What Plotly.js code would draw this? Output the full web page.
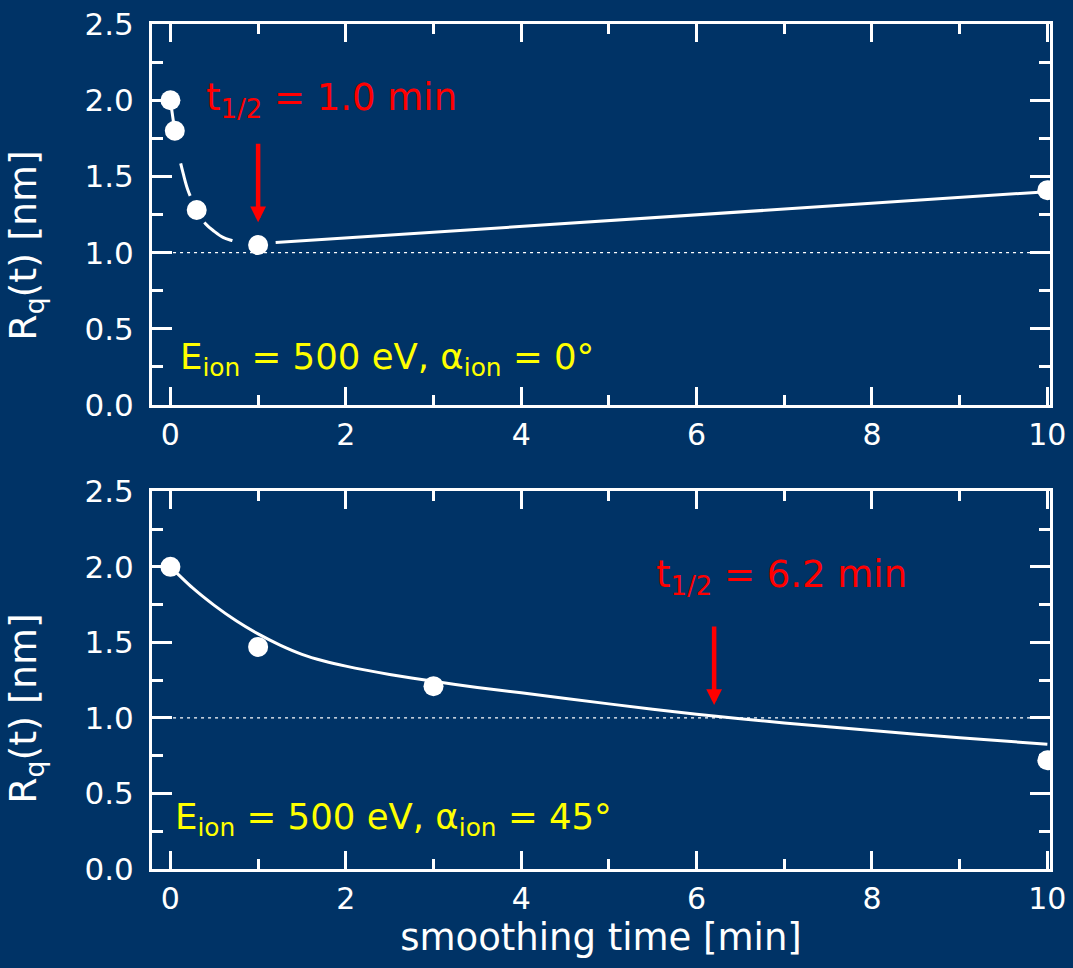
<!DOCTYPE html>
<html><head><meta charset="utf-8">
<script src="https://cdn.plot.ly/plotly-3.0.1.min.js"></script>
<style>html,body{margin:0;padding:0;background:#003366}</style>
</head><body><div id="chart" style="width:1073px;height:968px"></div>
<script>
// ---- data ----
// top panel (alpha = 0 deg)
const topPointsT = [0, 0.05, 0.3, 1.0, 10];
const topPointsR = [2.0, 1.80, 1.28, 1.05, 1.41];
const topFastT = [0, 0.05, 0.1, 0.15, 0.2, 0.3, 0.4, 0.5, 0.6, 0.7, 0.8, 0.9, 1.0];
const topFastR = [2.0, 1.80, 1.63, 1.51, 1.41, 1.28, 1.19, 1.14, 1.10, 1.08, 1.065, 1.055, 1.05];
const topSlowT = [1.2, 2, 3, 4, 5, 6, 7, 8, 9, 10];
const topSlowR = [1.066, 1.096, 1.134, 1.172, 1.21, 1.248, 1.286, 1.324, 1.362, 1.40];
// bottom panel (alpha = 45 deg)
const botPointsT = [0, 1, 3, 10];
const botPointsR = [2.0, 1.47, 1.21, 0.72];
const botFitT = [0, 0.25, 0.5, 0.75, 1.0, 1.25, 1.5, 1.75, 2.0, 2.5, 3.0, 3.5, 4, 5, 6, 7, 8, 9, 10];
const botFitR = [2.0, 1.862, 1.745, 1.643, 1.556, 1.482, 1.421, 1.377, 1.343, 1.288, 1.242, 1.202, 1.166, 1.093, 1.024, 0.967, 0.916, 0.869, 0.826];
// reference level and half-times
const refT = [0.03, 10];
const refR = [1.0, 1.0];
const tHalf = [1.0, 6.2];
const halfLabels = ['t<sub>1/2</sub> = 1.0 min', 't<sub>1/2</sub> = 6.2 min'];
const condLabels = ['E<sub>ion</sub> = 500 eV, α<sub>ion</sub> = 0°', 'E<sub>ion</sub> = 500 eV, α<sub>ion</sub> = 45°'];
const yTitle = 'R<sub>q</sub>(t) [nm]';
const xTitle = 'smoothing time [min]';
const yTickVals = [0, 0.5, 1.0, 1.5, 2.0, 2.5];
const xTickVals = [0, 2, 4, 6, 8, 10];

const W = 'white';
const FONT = 'DejaVu Sans, Verdana, sans-serif';

const traces = [
  {x: refT, y: refR, xaxis: 'x', yaxis: 'y', mode: 'lines', line: {color: W, width: 1.3, dash: '3px,4px'}, hoverinfo: 'skip'},
  {x: topFastT, y: topFastR, xaxis: 'x', yaxis: 'y', mode: 'lines', line: {color: W, width: 3, dash: '34px,30px', shape: 'spline'}},
  {x: topSlowT, y: topSlowR, xaxis: 'x', yaxis: 'y', mode: 'lines', line: {color: W, width: 3}},
  {x: topPointsT, y: topPointsR, xaxis: 'x', yaxis: 'y', mode: 'markers', marker: {color: W, size: 20}},
  {x: refT, y: refR, xaxis: 'x2', yaxis: 'y2', mode: 'lines', line: {color: W, width: 1.3, dash: '3px,4px'}, hoverinfo: 'skip'},
  {x: botFitT, y: botFitR, xaxis: 'x2', yaxis: 'y2', mode: 'lines', line: {color: W, width: 3, shape: 'spline', smoothing: 0.6}},
  {x: botPointsT, y: botPointsR, xaxis: 'x2', yaxis: 'y2', mode: 'markers', marker: {color: W, size: 20}}
];

function xax(anchor, showTitle) {
  const a = {
    anchor: anchor, range: [-0.21, 10.03], tickvals: xTickVals,
    ticks: 'inside', ticklen: 18, tickwidth: 3, tickcolor: W,
    minor: {dtick: 1, ticks: 'inside', ticklen: 10, tickwidth: 3, tickcolor: W},
    showline: true, linecolor: W, linewidth: 3, mirror: 'allticks',
    showgrid: false, zeroline: false,
    tickfont: {family: FONT, size: 30, color: W}, ticklabelstandoff: 1
  };
  if (showTitle) a.title = {text: xTitle, font: {family: FONT, size: 37, color: W}, standoff: 6};
  return a;
}
function yax(anchor, domain) {
  return {
    anchor: anchor, domain: domain, range: [0, 2.5], tickvals: yTickVals, tickformat: '.1f',
    ticks: 'inside', ticklen: 20, tickwidth: 3, tickcolor: W,
    minor: {dtick: 0.25, ticks: 'inside', ticklen: 11, tickwidth: 3, tickcolor: W},
    showline: true, linecolor: W, linewidth: 3, mirror: 'allticks',
    showgrid: false, zeroline: false,
    tickfont: {family: FONT, size: 31, color: W}, ticklabelstandoff: 9
  };
}

const ann = [];
// half-time arrows
const arrowTip = [1.20, 1.086];
const arrowTail = [1.724, 1.615];
['', '2'].forEach((s, i) => {
  ann.push({xref: 'x' + s, yref: 'y' + s, axref: 'x' + s, ayref: 'y' + s,
    x: tHalf[i], y: arrowTip[i], ax: tHalf[i], ay: arrowTail[i], text: '',
    showarrow: true, arrowhead: 2, arrowsize: 0.7, arrowwidth: 4.5, arrowcolor: '#ff0000'});
});
ann.push({xref: 'x', yref: 'y', x: 0.38, y: 2.0, xanchor: 'left', yanchor: 'middle', text: halfLabels[0],
  showarrow: false, font: {family: FONT, size: 37, color: '#ff0000'}});
ann.push({xref: 'x2', yref: 'y2', x: 5.51, y: 1.93, xanchor: 'left', yanchor: 'middle', text: halfLabels[1],
  showarrow: false, font: {family: FONT, size: 37, color: '#ff0000'}});
ann.push({xref: 'x', yref: 'y', x: 0.09, y: 0.30, xanchor: 'left', yanchor: 'middle', text: condLabels[0],
  showarrow: false, font: {family: FONT, size: 35.5, color: '#ffff00'}});
ann.push({xref: 'x2', yref: 'y2', x: 0.035, y: 0.33, xanchor: 'left', yanchor: 'middle', text: condLabels[1],
  showarrow: false, font: {family: FONT, size: 35.5, color: '#ffff00'}});
// y-axis titles (placed as rotated text like the reference)
ann.push({xref: 'paper', yref: 'paper', x: -0.141, y: 0.738, xanchor: 'center', yanchor: 'middle', textangle: -90,
  text: yTitle, showarrow: false, font: {family: FONT, size: 38, color: W}});
ann.push({xref: 'paper', yref: 'paper', x: -0.141, y: 0.19, xanchor: 'center', yanchor: 'middle', textangle: -90,
  text: yTitle, showarrow: false, font: {family: FONT, size: 38, color: W}});

const layout = {
  width: 1073, height: 968,
  paper_bgcolor: '#003366', plot_bgcolor: '#003366',
  margin: {l: 152, r: 23, t: 24, b: 99},
  showlegend: false,
  xaxis: xax('y', false),
  yaxis: yax('x', [0.549, 1]),
  xaxis2: xax('y2', true),
  yaxis2: yax('x2', [0, 0.447]),
  annotations: ann
};
Plotly.newPlot('chart', traces, layout, {staticPlot: true});
</script></body></html>
